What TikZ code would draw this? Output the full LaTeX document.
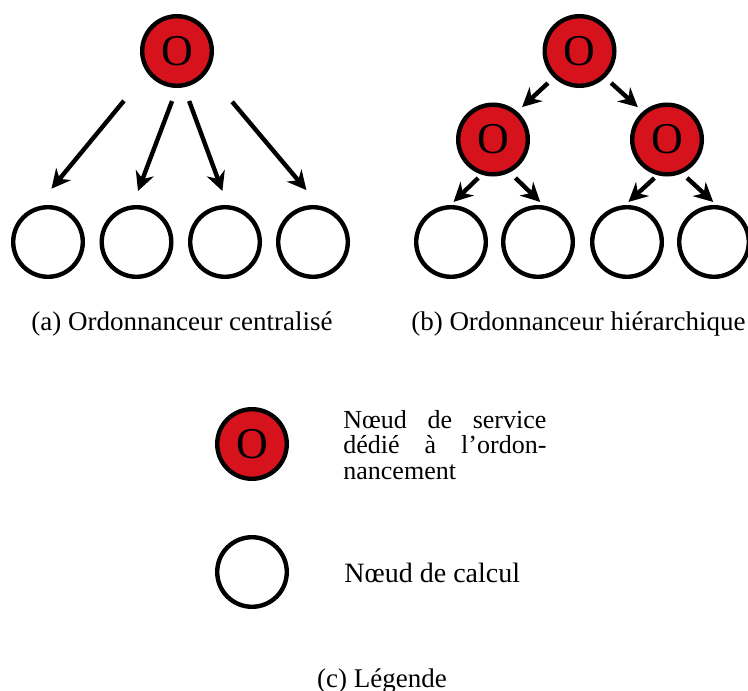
\documentclass[tikz,border=0pt]{standalone}
\usepackage{fontspec}
\setmainfont{Liberation Serif}
\usetikzlibrary{arrows.meta}
\definecolor{rouge}{RGB}{214,19,28}
\tikzset{
  ordo/.style={circle, draw=black, line width=2.2pt, fill=rouge,
    minimum size=34.8pt, inner sep=0pt, font=\fontsize{22}{22}\selectfont},
  calcul/.style={circle, draw=black, line width=2.2pt,
    minimum size=34.8pt, inner sep=0pt},
  fl/.style={-{Stealth[length=9.5pt,width=9.5pt]}, line width=2.2pt},
  titre/.style={inner sep=0pt, font=\fontsize{13.5}{15}\selectfont}
}
\begin{document}
\begin{tikzpicture}[x=0.5pt,y=0.5pt]
  \useasboundingbox (0,0) rectangle (748,-690);
  % (a) ordonnanceur centralise
  \node[ordo] (oa) at (177,-51) {O};
  \node[calcul] (ca1) at (48,-242) {};
  \node[calcul] (ca2) at (136.5,-242) {};
  \node[calcul] (ca3) at (225,-242) {};
  \node[calcul] (ca4) at (313,-242) {};
  \draw[fl, shorten <=18.2pt, shorten >=11.7pt] (oa.216.5) -- (ca1.108.8);
  \draw[fl, shorten <=7pt, shorten >=7.6pt] (oa.-90) -- (ca2.96.8);
  \draw[fl, shorten <=7.3pt, shorten >=7.5pt] (oa.-79) -- (ca3.86.6);
  \draw[fl, shorten <=19.3pt, shorten >=10.1pt] (oa.-35.4) -- (ca4.80.7);
  \node[titre, anchor=base] (ta) at (182,-330) {(a)\ Ordonnanceur centralisé};
  % (b) ordonnanceur hierarchique
  \node[ordo] (ob) at (579.5,-51) {O};
  \node[ordo] (obg) at (493,-139.5) {O};
  \node[ordo] (obd) at (667,-139.5) {O};
  \node[calcul] (cb1) at (451,-242) {};
  \node[calcul] (cb2) at (538,-242) {};
  \node[calcul] (cb3) at (627,-242) {};
  \node[calcul] (cb4) at (714,-242) {};
  \draw[fl, shorten <=4pt, shorten >=3.3pt] (ob.-134) -- (obg.49);
  \draw[fl, shorten <=4pt, shorten >=3.3pt] (ob.-46) -- (obd.131);
  \draw[fl, shorten <=2.4pt, shorten >=2.2pt] (obg.-108) -- (cb1.91.7);
  \draw[fl, shorten <=3.9pt, shorten >=2.5pt] (obg.-63.7) -- (cb2.81.3);
  \draw[fl, shorten <=2.1pt, shorten >=2.3pt] (obd.-105.5) -- (cb3.93.6);
  \draw[fl, shorten <=3.4pt, shorten >=2.3pt] (obd.-66) -- (cb4.86.4);
  \node[titre, anchor=base east] (tb) at (746,-330) {(b)\ Ordonnanceur hiérarchique};
  % (c) legende
  \node[ordo] (lo) at (252,-444) {O};
  \node[calcul] (lc) at (252,-572) {};
  \node[inner sep=0pt, anchor=base west, text width=101.5pt, align=justify,
    font=\fontsize{13}{12.75}\selectfont] (tlo) at (343,-428)
    {Nœud de service\linebreak dédié à l'ordon-\linebreak nancement};
  \node[inner sep=0pt, anchor=base west, font=\fontsize{14}{16}\selectfont]
    (tlc) at (344,-582) {Nœud de calcul};
  \node[titre, anchor=base] (tc) at (382,-687) {(c)\ Légende};
\end{tikzpicture}
\end{document}
